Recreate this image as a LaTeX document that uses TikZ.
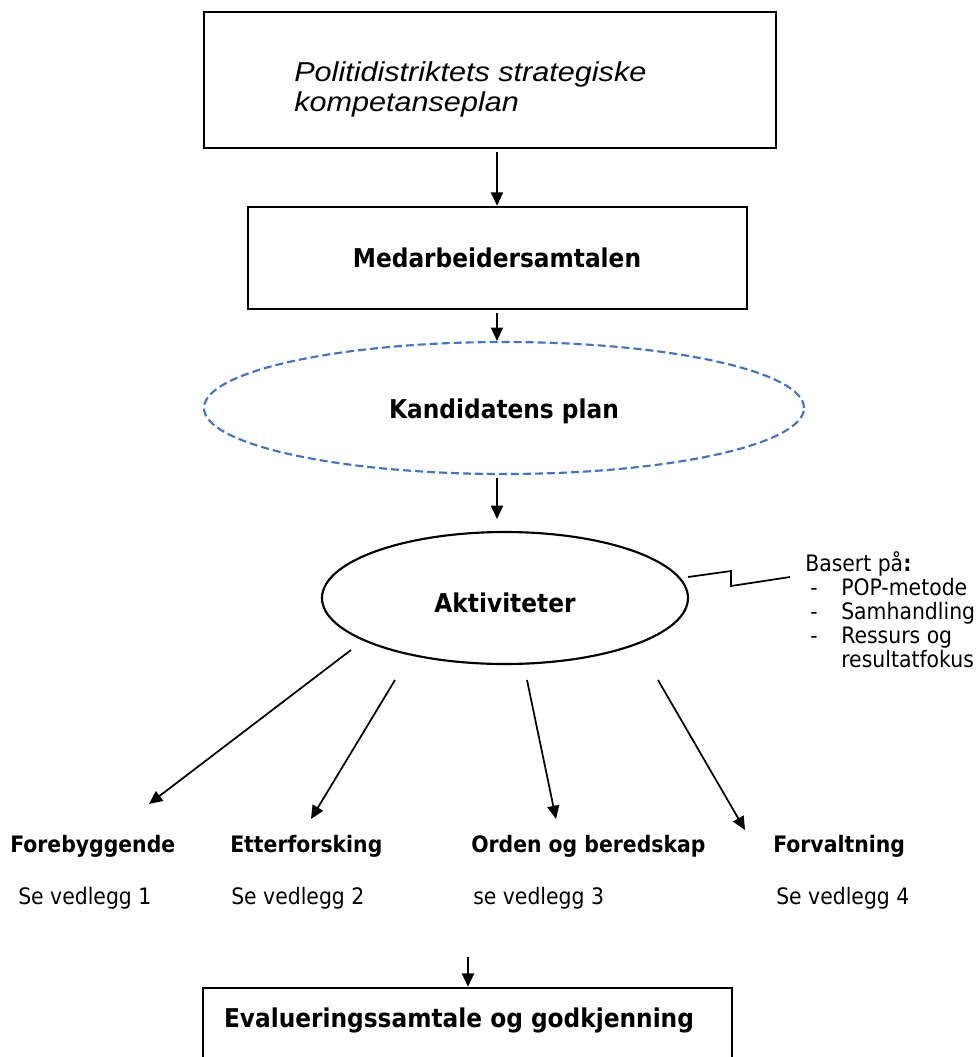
\documentclass[tikz,border=0pt]{standalone}
\usepackage{fontspec}
\setmainfont{DejaVu Sans}[FakeStretch=0.9]
\newfontfamily\itfont{Liberation Sans}[FakeStretch=1.12]
\usetikzlibrary{arrows.meta,shapes.geometric}
\definecolor{dashblue}{RGB}{68,114,196}
\begin{document}
\begin{tikzpicture}[x=0.75pt,y=-0.75pt,
  box/.style={draw, line width=1.8pt, rectangle, inner sep=0pt},
  conn/.style={line width=1.3pt, -{Triangle[length=10pt,width=9pt]}},
  head/.style={font=\fontsize{19.4}{23}\selectfont\bfseries, inner sep=0pt},
  rowhead/.style={font=\fontsize{17}{20}\selectfont\bfseries, anchor=west, inner sep=0pt},
  plain/.style={font=\fontsize{17}{18}\selectfont, anchor=west, inner sep=0pt},
  oval/.style={ellipse, inner sep=0pt, line width=1.6pt}
]
\useasboundingbox (0,0) rectangle (976,1057);
\clip (0,0) rectangle (976,1057);
\fill[white] (0,0) rectangle (976,1057);

% top box
\node[box, minimum width=429pt, minimum height=102pt] (plan) at (490,80) {};
\node[anchor=west, align=left, inner sep=0pt,
      font=\itfont\itshape\fontsize{20.5}{22.5}\selectfont] (plantext) at (294,89)
      {Politidistriktets strategiske\\kompetanseplan};

% second box
\node[box, minimum width=374.25pt, minimum height=76.5pt] (medarb) at (497.5,258) {};
\node[head] (medarbtext) at (497,258) {Medarbeidersamtalen};

% dashed ellipse
\node[oval, draw=dashblue, dash pattern=on 6pt off 3pt,
      minimum width=450pt, minimum height=99pt] (kand) at (504,408) {};
\node[head] (kandtext) at (504,411) {Kandidatens plan};

% aktiviteter ellipse
\node[oval, draw, minimum width=274.5pt, minimum height=99pt] (akt) at (505,598) {};
\node[head] (akttext) at (505,603) {Aktiviteter};

% vertical arrows
\coordinate (a1s) at (497,152);
\coordinate (a2s) at (497,313);
\coordinate (a3s) at (497,478);
\coordinate (a3e) at (497,519);
\draw[conn] (a1s) -- (medarb.north -| a1s);
\draw[conn] (a2s) -- (kand.north -| a2s);
\draw[conn] (a3s) -- (a3e);

% annotation
\coordinate (z0) at (688,577);
\coordinate (z1) at (731,571);
\coordinate (z2) at (731,586);
\coordinate (z3) at (790,577);
\draw[line width=1.3pt] (z0) -- (z1) -- (z2) -- (z3);
\node[plain, anchor=north west, align=left] (basert) at (805,551)
  {Basert på\textbf{:}\\
   \hspace*{3.75pt}\makebox[23.25pt][l]{-}POP-metode\\
   \hspace*{3.75pt}\makebox[23.25pt][l]{-}Samhandling\\
   \hspace*{3.75pt}\makebox[23.25pt][l]{-}Ressurs og\\
   \hspace*{27pt}resultatfokus};

% diverging arrows
\coordinate (s1) at (351,650);
\coordinate (e1) at (149,804);
\coordinate (s2) at (395,680);
\coordinate (e2) at (311,819);
\coordinate (s3) at (527,680);
\coordinate (e3) at (556,819);
\coordinate (s4) at (658,680);
\coordinate (e4) at (745,830);
\draw[conn] (s1) -- (e1);
\draw[conn] (s2) -- (e2);
\draw[conn] (s3) -- (e3);
\draw[conn] (s4) -- (e4);

% category row
\node[rowhead] (c1) at (10,846) {Forebyggende};
\node[rowhead] (c2) at (230,846) {Etterforsking};
\node[rowhead] (c3) at (471,846) {Orden og beredskap};
\node[rowhead] (c4) at (773,846) {Forvaltning};
\node[plain] (v1) at (18,898) {Se vedlegg 1};
\node[plain] (v2) at (231,898) {Se vedlegg 2};
\node[plain] (v3) at (473,898) {se vedlegg 3};
\node[plain] (v4) at (776,898) {Se vedlegg 4};

% bottom box
\node[box, minimum width=396.75pt, minimum height=90pt] (eval) at (467.5,1048) {};
\node[head] (evaltext) at (459,1020) {Evalueringssamtale og godkjenning};
\coordinate (a5s) at (468,957);
\draw[conn] (a5s) -- (eval.north -| a5s);
\end{tikzpicture}
\end{document}
